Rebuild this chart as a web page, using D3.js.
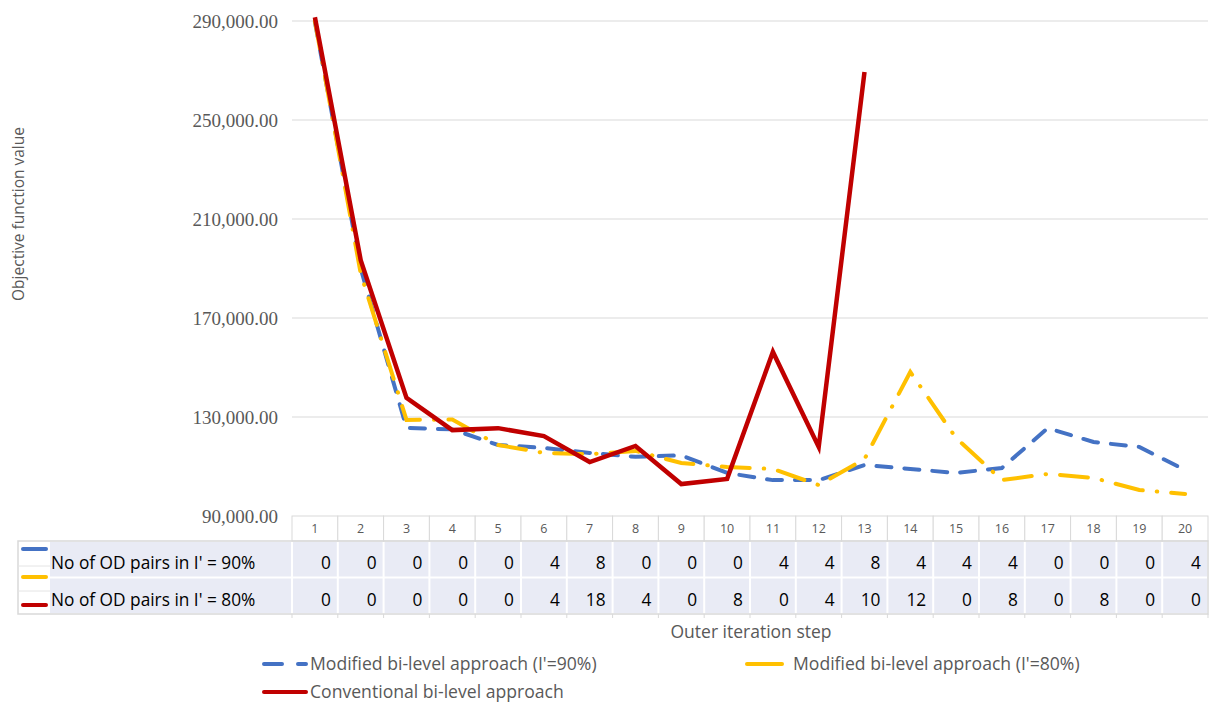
<!DOCTYPE html>
<html>
<head>
<meta charset="utf-8">
<script src="https://cdn.jsdelivr.net/npm/d3@7"></script>
<style>
  body { margin: 0; background: #fff; }
  svg { display: block; }
</style>
</head>
<body>
<div id="chart"></div>
<script>
// values
const steps = ['1','2','3','4','5','6','7','8','9','10','11','12','13','14','15','16','17','18','19','20'];
const modified90 = [289600, 190000, 125600, 125000, 118700, 117500, 115500, 113900, 114500, 107400,
  104500, 104500, 110600, 109000, 107400, 109400, 125500, 119900, 117900, 108600];
const modified80 = [290000, 188000, 128800, 129000, 118700, 115500, 115000, 116300, 111400, 109800,
  109000, 102500, 113000, 148200, 121500, 104500, 107000, 105400, 100500, 98900];
const conventional = [291500, 193400, 137700, 124700, 125500, 122300, 111800, 118300, 102900, 105000,
  156300, 117900, 269400];
const odPairs90 = [0, 0, 0, 0, 0, 4, 8, 0, 0, 0, 4, 4, 8, 4, 4, 4, 0, 0, 0, 4];
const odPairs80 = [0, 0, 0, 0, 0, 4, 18, 4, 0, 8, 0, 4, 10, 12, 0, 8, 0, 8, 0, 0];
const yTicks = [90000, 130000, 170000, 210000, 250000, 290000];
const tableRows = [
  { label: "No of OD pairs in I' = 90%", values: odPairs90 },
  { label: "No of OD pairs in I' = 80%", values: odPairs80 }
];

const width = 1221, height = 704;
const sans = "'Open Sans', Lato, sans-serif";
const colors = { blue: '#4472C4', yellow: '#FFC000', red: '#C00000' };
const series = [
  { name: "Modified bi-level approach (I'=90%)", values: modified90, color: colors.blue,
    dash: '15 13', key: '18 16' },
  { name: "Modified bi-level approach (I'=80%)", values: modified80, color: colors.yellow,
    dash: '28 14 0.5 14', key: null },
  { name: 'Conventional  bi-level approach', values: conventional, color: colors.red,
    dash: null, key: null }
];

const svg = d3.select('#chart').append('svg')
  .attr('width', width)
  .attr('height', height)
  .attr('viewBox', `0 0 ${width} ${height}`);

const x = d3.scaleBand().domain(steps).range([292, 1208]);
const y = d3.scaleLinear().domain([90000, 290000]).range([516, 21]);
const bw = x.bandwidth();
const cx = i => x(steps[i]) + bw / 2;

// gridlines + y labels
svg.append('g')
  .selectAll('line')
  .data(yTicks.slice(1))
  .join('line')
  .attr('x1', x.range()[0]).attr('x2', x.range()[1])
  .attr('y1', d => y(d)).attr('y2', d => y(d))
  .attr('stroke', '#d9d9d9').attr('stroke-width', 1);

svg.append('g')
  .selectAll('text')
  .data(yTicks)
  .join('text')
  .attr('x', 278)
  .attr('y', d => y(d))
  .attr('dy', '0.35em')
  .attr('text-anchor', 'end')
  .attr('font-family', "'Liberation Serif', 'Times New Roman', serif")
  .attr('font-size', 19)
  .attr('fill', '#595959')
  .text(d => d3.format(',.2f')(d));

svg.append('text')
  .attr('transform', 'translate(24,214) rotate(-90)')
  .attr('text-anchor', 'middle')
  .attr('font-family', sans)
  .attr('font-size', 15.5)
  .attr('fill', '#595959')
  .text('Objective function value');

// data table
const tTop = 541, rowH = 36.5, tBottom = tTop + rowH * 2, tLeft = 18, labelLeft = 50;
const grid = svg.append('g');

// header row (category labels)
steps.forEach((s, i) => {
  grid.append('rect')
    .attr('x', x(s)).attr('y', 516)
    .attr('width', bw).attr('height', tTop - 516)
    .attr('fill', '#fff').attr('stroke', '#d9d9d9');
  grid.append('text')
    .attr('x', cx(i)).attr('y', 529)
    .attr('dy', '0.35em')
    .attr('text-anchor', 'middle')
    .attr('font-family', sans).attr('font-size', 12.5)
    .attr('fill', '#595959')
    .text(s);
});

// lavender cells
tableRows.forEach((row, r) => {
  const ry = tTop + r * rowH;
  grid.append('rect')
    .attr('x', labelLeft).attr('y', ry + 1)
    .attr('width', x.range()[0] - labelLeft - 1).attr('height', rowH - 2)
    .attr('fill', '#E9EBF5');
  grid.append('text')
    .attr('x', labelLeft + 1).attr('y', ry + rowH / 2 + 4)
    .attr('dy', '0.35em')
    .attr('font-family', sans).attr('font-size', 17.3)
    .attr('fill', '#000')
    .text(row.label);
  row.values.forEach((v, i) => {
    grid.append('rect')
      .attr('x', x(steps[i]) + 1).attr('y', ry + 1)
      .attr('width', bw - 2).attr('height', rowH - 2)
      .attr('fill', '#E9EBF5');
    grid.append('text')
      .attr('x', x(steps[i]) + bw - 7).attr('y', ry + rowH / 2 + 4)
      .attr('dy', '0.35em')
      .attr('text-anchor', 'end')
      .attr('font-family', sans).attr('font-size', 17.3)
      .attr('fill', '#000')
      .text(v);
  });
});

// outer border + key column separators
grid.append('rect')
  .attr('x', tLeft).attr('y', tTop)
  .attr('width', x.range()[1] - tLeft).attr('height', tBottom - tTop)
  .attr('fill', 'none').attr('stroke', '#d9d9d9').attr('stroke-width', 1.5);
[566, 591].forEach(ly => {
  grid.append('line')
    .attr('x1', tLeft).attr('x2', labelLeft)
    .attr('y1', ly).attr('y2', ly)
    .attr('stroke', '#e4e4e4');
});
// small ticks below the table
grid.selectAll('line.tick')
  .data(steps.concat(['end']))
  .join('line')
  .attr('class', 'tick')
  .attr('x1', (d, i) => x.range()[0] + i * bw)
  .attr('x2', (d, i) => x.range()[0] + i * bw)
  .attr('y1', tBottom).attr('y2', tBottom + 4)
  .attr('stroke', '#d9d9d9');

// legend keys in the table
const keyY = [549, 577, 605];
series.forEach((s, i) => {
  grid.append('line')
    .attr('x1', 23).attr('x2', 46)
    .attr('y1', keyY[i]).attr('y2', keyY[i])
    .attr('stroke', s.color).attr('stroke-width', 4)
    .attr('stroke-linecap', 'round');
});

svg.append('text')
  .attr('x', 751).attr('y', 632)
  .attr('dy', '0.35em')
  .attr('text-anchor', 'middle')
  .attr('font-family', sans).attr('font-size', 17.5)
  .attr('fill', '#595959')
  .text('Outer iteration step');

// lines
const line = d3.line()
  .x((d, i) => cx(i))
  .y(d => y(d));

series.forEach(s => {
  svg.append('path')
    .attr('d', line(s.values))
    .attr('fill', 'none')
    .attr('stroke', s.color)
    .attr('stroke-width', s.dash ? 4 : 4.5)
    .attr('stroke-linecap', s.dash ? 'round' : 'butt')
    .attr('stroke-linejoin', 'miter')
    .attr('stroke-dasharray', s.dash);
});

// legend
const legendPos = [[262, 664], [745, 664], [262, 692]];
series.forEach((s, i) => {
  const [lx, ly] = legendPos[i];
  const g = svg.append('g').attr('transform', `translate(${lx},${ly})`);
  g.append('line')
    .attr('x1', 2).attr('x2', i === 1 ? 37 : 44)
    .attr('y1', 0).attr('y2', 0)
    .attr('stroke', s.color).attr('stroke-width', 4)
    .attr('stroke-linecap', 'round')
    .attr('stroke-dasharray', s.key);
  g.append('text')
    .attr('x', 48).attr('y', 0)
    .attr('dy', '0.35em')
    .attr('font-family', sans).attr('font-size', 17.6)
    .attr('fill', '#595959')
    .text(s.name);
});
</script>
</body>
</html>
